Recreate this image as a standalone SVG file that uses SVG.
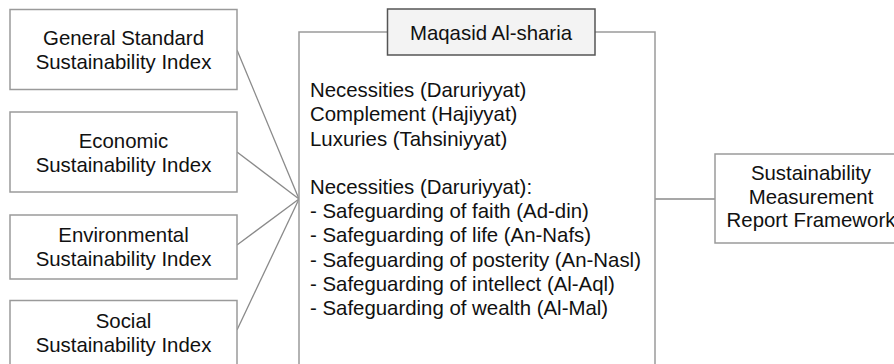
<svg xmlns="http://www.w3.org/2000/svg" width="894" height="364" viewBox="0 0 894 364">
<style>
.box{fill:#fff;stroke:#9a9a9a;stroke-width:1.5}
.title{fill:#f3f3f3;stroke:#555;stroke-width:1.5}
.t{font-family:"Liberation Sans",Arial,sans-serif;font-size:20.4px;fill:#111}
.c{text-anchor:middle}
.line{stroke:#8a8a8a;stroke-width:1.3;fill:none}
</style>
<rect width="894" height="364" fill="#fff"/>
<g id="connectors">
<line class="line" x1="237" y1="50" x2="299" y2="199"/>
<line class="line" x1="237" y1="152" x2="299" y2="199"/>
<line class="line" x1="237" y1="245" x2="299" y2="199"/>
<line class="line" x1="237" y1="330" x2="299" y2="199"/>
<line class="line" x1="655" y1="199" x2="715" y2="199"/>
</g>
<g id="general">
<rect class="box" x="10" y="9.5" width="227" height="80"/>
<text class="t c" x="123.5" y="45">General Standard</text>
<text class="t c" x="123.5" y="68.5">Sustainability Index</text>
</g>
<g id="economic">
<rect class="box" x="10" y="112" width="227" height="80"/>
<text class="t c" x="123.5" y="147.5">Economic</text>
<text class="t c" x="123.5" y="171.5">Sustainability Index</text>
</g>
<g id="environmental">
<rect class="box" x="10" y="215" width="227" height="64"/>
<text class="t c" x="123.5" y="242">Environmental</text>
<text class="t c" x="123.5" y="265.5">Sustainability Index</text>
</g>
<g id="social">
<rect class="box" x="10" y="300.5" width="227" height="70"/>
<text class="t c" x="123.5" y="327.5">Social</text>
<text class="t c" x="123.5" y="351.5">Sustainability Index</text>
</g>
<g id="maqasid">
<rect class="box" x="299" y="32" width="356" height="340"/>
<rect class="title" x="387.5" y="9" width="207.5" height="46"/>
<text class="t c" x="491" y="39.5">Maqasid Al-sharia</text>
<text class="t" x="310" y="97">Necessities (Daruriyyat)</text>
<text class="t" x="310" y="121">Complement (Hajiyyat)</text>
<text class="t" x="310" y="145.5">Luxuries (Tahsiniyyat)</text>
<text class="t" x="310" y="194">Necessities (Daruriyyat):</text>
<text class="t" x="310" y="218">- Safeguarding of faith (Ad-din)</text>
<text class="t" x="310" y="242">- Safeguarding of life (An-Nafs)</text>
<text class="t" x="310" y="266.5">- Safeguarding of posterity (An-Nasl)</text>
<text class="t" x="310" y="290.5">- Safeguarding of intellect (Al-Aql)</text>
<text class="t" x="310" y="314.5">- Safeguarding of wealth (Al-Mal)</text>
</g>
<g id="framework">
<rect class="box" x="715" y="154" width="200" height="89"/>
<text class="t c" x="811" y="180">Sustainability</text>
<text class="t c" x="811" y="203.5">Measurement</text>
<text class="t c" x="811" y="227">Report Framework</text>
</g>
</svg>
